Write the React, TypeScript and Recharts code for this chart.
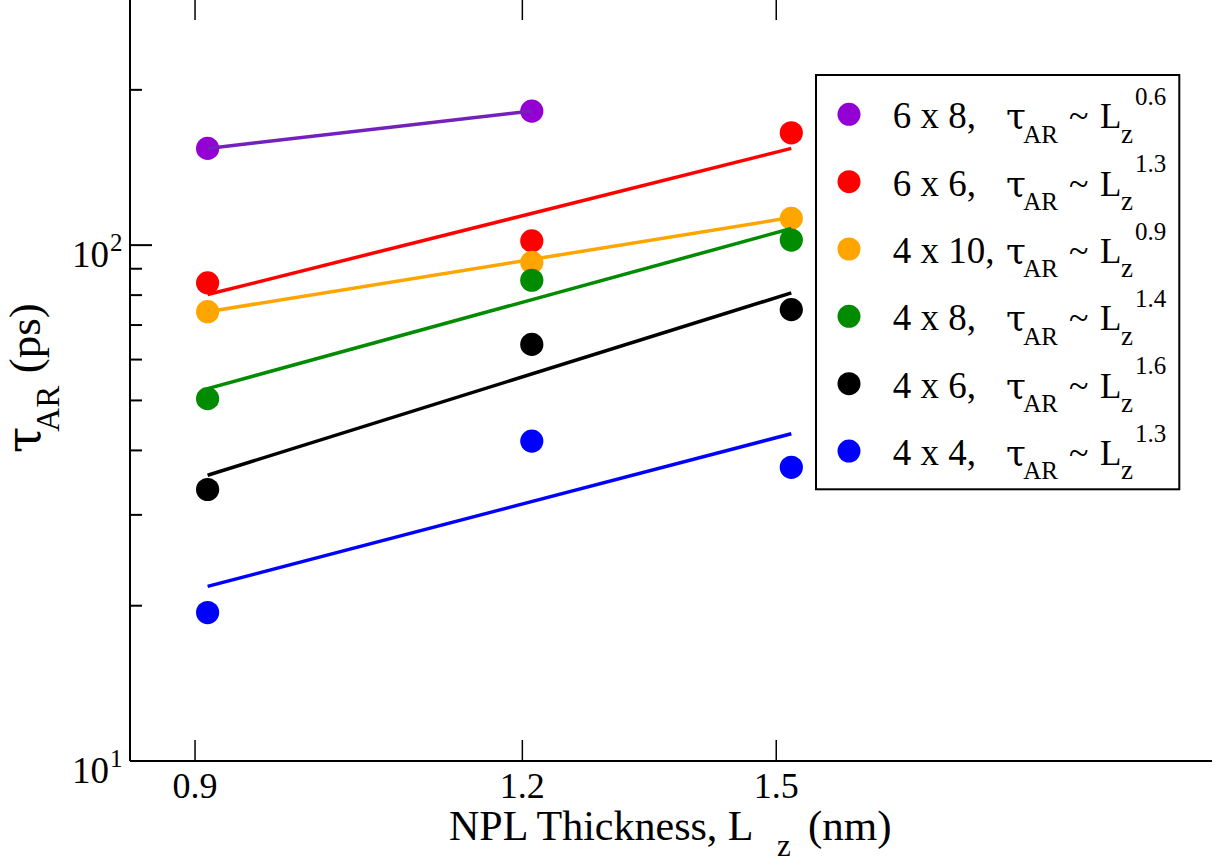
import React from 'react';
import { ScatterChart, Scatter, XAxis, YAxis, Legend } from 'recharts';

// ---------- data ----------
const thickness = [0.91, 1.21, 1.52];
const fitEnds = [0.91, 1.52];
const fitEnds6x8 = [0.91, 1.21];

const tau6x8 = [154.0, 181.9];
const tau6x6 = [84.5, 101.9, 165.1];
const tau4x10 = [74.3, 92.6, 112.7];
const tau4x8 = [50.4, 85.5, 102.3];
const tau4x6 = [33.6, 64.2, 75.0];
const tau4x4 = [19.4, 41.7, 37.1];

const fit6x8 = [154.0, 181.9];
const fit6x6 = [80.2, 154.0];
const fit4x10 = [74.3, 113.1];
const fit4x8 = [52.7, 107.7];
const fit4x6 = [35.8, 80.8];
const fit4x4 = [21.8, 43.1];

const sizeLabels = ['6 x 8,', '6 x 6,', '4 x 10,', '4 x 8,', '4 x 6,', '4 x 4,'];
const exponents = ['0.6', '1.3', '0.9', '1.4', '1.6', '1.3'];
const markerColors = ['#9400d3', '#ff0000', '#ffa500', '#008b00', '#000000', '#0000ff'];
const lineColors = ['#7221bc', '#ff0000', '#ffa500', '#008b00', '#000000', '#0000ff'];

const xTicks = [0.9, 1.2, 1.5];
const yTicks = [10, 20, 30, 40, 50, 60, 70, 80, 90, 100, 200, 300];
const yMajor = [10, 100];

// ---------- layout ----------
const FONT = '"Liberation Serif", "Times New Roman", serif';
const SHIFT = 20; // chart is lifted by this many px so the top frame sits just above the page
const W = 1221;
const H = 885;

const toPts = (xs: number[], ys: number[]) => ys.map((y, i) => ({ x: xs[i], y }));

const series = [
  { pts: toPts(thickness, tau6x8), fit: toPts(fitEnds6x8, fit6x8) },
  { pts: toPts(thickness, tau6x6), fit: toPts(fitEnds, fit6x6) },
  { pts: toPts(thickness, tau4x10), fit: toPts(fitEnds, fit4x10) },
  { pts: toPts(thickness, tau4x8), fit: toPts(fitEnds, fit4x8) },
  { pts: toPts(thickness, tau4x6), fit: toPts(fitEnds, fit4x6) },
  { pts: toPts(thickness, tau4x4), fit: toPts(fitEnds, fit4x4) },
].map((s, i) => ({ ...s, color: markerColors[i], lineColor: lineColors[i], label: sizeLabels[i], exp: exponents[i] }));

const LeftTick = (props: any) => {
  const { x, y, payload } = props;
  const v = payload.value;
  const major = yMajor.includes(v);
  const e = Math.round(Math.log10(v));
  return (
    <g>
      <line x1={x} y1={y} x2={x + (major ? 22 : 12)} y2={y} stroke="#000" strokeWidth={2} />
      {major && (
        <text x={x - 21} y={y + 21.5} textAnchor="end" fontFamily={FONT} fontSize={37} fill="#000">10</text>
      )}
      {major && (
        <text x={x - 20} y={y + 6} textAnchor="start" fontFamily={FONT} fontSize={25} fill="#000">{e}</text>
      )}
    </g>
  );
};

const RightTick = (props: any) => {
  const { x, y, payload } = props;
  const major = yMajor.includes(payload.value);
  return <line x1={x} y1={y} x2={x - (major ? 20 : 11)} y2={y} stroke="#000" strokeWidth={2} />;
};

const BottomTick = (props: any) => {
  const { x, y, payload } = props;
  return (
    <g>
      <line x1={x} y1={y} x2={x} y2={y - 21} stroke="#000" strokeWidth={1.5} />
      <text x={x} y={y + 37.3} textAnchor="middle" fontFamily={FONT} fontSize={36} fill="#000">{String(payload.value)}</text>
    </g>
  );
};

const TopTick = (props: any) => {
  const { x, y } = props;
  return <line x1={x} y1={y} x2={x} y2={y + 21} stroke="#000" strokeWidth={1.5} />;
};

const XTitle = () => (
  <text y={840 + SHIFT} fontFamily={FONT} fill="#000">
    <tspan x={449} fontSize={42}>NPL Thickness, L</tspan>
    <tspan x={777} dy={16} fontSize={31}>z</tspan>
    <tspan x={808} dy={-16} fontSize={43}>(nm)</tspan>
  </text>
);

const YTitle = () => {
  const cx = 40;
  const cy = 453.3 + SHIFT;
  return (
    <text transform={`rotate(-90, ${cx}, ${cy})`} y={cy} fontFamily={FONT} fill="#000">
      <tspan x={cx} fontSize={48} fontFamily='"DejaVu Serif", serif'>τ</tspan>
      <tspan x={cx + 21.6} dy={19} fontSize={33}>AR</tspan>
      <tspan x={cx + 80} dy={-19} fontSize={45}>(ps)</tspan>
    </text>
  );
};

const LEG_L = 815;
const LEG_T = 74;
const LegendBox = () => {
  const rowY = (i: number) => 114.3 - LEG_T + i * 67.35;
  return (
    <svg width={368} height={418} style={{ display: 'block', overflow: 'visible' }}>
      <rect x={1} y={1} width={363.3} height={414.3} fill="#fff" stroke="#000" strokeWidth={2} />
      {series.map((s, i) => {
        const cy = rowY(i);
        return (
          <g key={i} fontFamily={FONT} fill="#000">
            <circle cx={849 - LEG_L} cy={cy} r={11.5} fill={s.color} />
            <text x={892.7 - LEG_L} y={cy + 14} fontSize={37}>{s.label}</text>
            <text x={1006 - LEG_L} y={cy + 14} fontSize={36} fontFamily='"DejaVu Serif", serif'>τ</text>
            <text x={1023.3 - LEG_L} y={cy + 28.4} fontSize={25}>AR</text>
            <text x={1069 - LEG_L} y={cy + 14} fontSize={36}>~</text>
            <text x={1100 - LEG_L} y={cy + 14} fontSize={35}>L</text>
            <text x={1121 - LEG_L} y={cy + 28.4} fontSize={27}>z</text>
            <text x={1135 - LEG_L} y={cy - 9.3} fontSize={25}>{s.exp}</text>
          </g>
        );
      })}
    </svg>
  );
};

const noShape = () => <g />;

export default function App() {
  return (
    <div style={{ position: 'absolute', left: 0, top: -SHIFT, width: W, height: H, background: '#fff' }}>
      <ScatterChart width={W} height={H} margin={{ top: 18, right: 9, bottom: 0, left: 0 }}>
        <XAxis
          dataKey="x"
          type="number"
          scale="log"
          domain={[0.85, 2.2]}
          allowDataOverflow
          ticks={xTicks}
          interval={0}
          height={104}
          tickSize={0}
          tickMargin={0}
          tickLine={false}
          axisLine={{ stroke: '#000', strokeWidth: 2 }}
          tick={<BottomTick />}
          label={{ content: () => <XTitle /> }}
        />
        <XAxis
          xAxisId="top"
          orientation="top"
          dataKey="x"
          type="number"
          scale="log"
          domain={[0.85, 2.2]}
          allowDataOverflow
          ticks={xTicks}
          interval={0}
          height={1}
          tickSize={0}
          tickMargin={0}
          tickLine={false}
          axisLine={{ stroke: '#000', strokeWidth: 2 }}
          tick={<TopTick />}
        />
        <YAxis
          dataKey="y"
          type="number"
          scale="log"
          domain={[10, 300]}
          allowDataOverflow
          ticks={yTicks}
          interval={0}
          width={130}
          tickSize={0}
          tickMargin={0}
          tickLine={false}
          axisLine={{ stroke: '#000', strokeWidth: 2 }}
          tick={<LeftTick />}
          label={{ content: () => <YTitle /> }}
        />
        <YAxis
          yAxisId="right"
          orientation="right"
          dataKey="y"
          type="number"
          scale="log"
          domain={[10, 300]}
          allowDataOverflow
          ticks={yTicks}
          interval={0}
          width={0}
          tickSize={0}
          tickMargin={0}
          tickLine={false}
          axisLine={{ stroke: '#000', strokeWidth: 2 }}
          tick={<RightTick />}
        />
        {series.map((s, i) => (
          <Scatter
            key={`p${i}`}
            data={s.pts}
            isAnimationActive={false}
            legendType="none"
            shape={(p: any) => <circle cx={p.cx} cy={p.cy} r={11.6} fill={s.color} />}
          />
        ))}
        {series.map((s, i) => (
          <Scatter
            key={`f${i}`}
            data={s.fit}
            isAnimationActive={false}
            legendType="none"
            line={{ stroke: s.lineColor, strokeWidth: 3.5 }}
            shape={noShape}
          />
        ))}
        <Legend
          layout="horizontal"
          align="center"
          verticalAlign="middle"
          content={() => <LegendBox />}
          wrapperStyle={{ left: LEG_L, top: LEG_T + SHIFT, width: 368, height: 418 }}
        />
      </ScatterChart>
    </div>
  );
}
